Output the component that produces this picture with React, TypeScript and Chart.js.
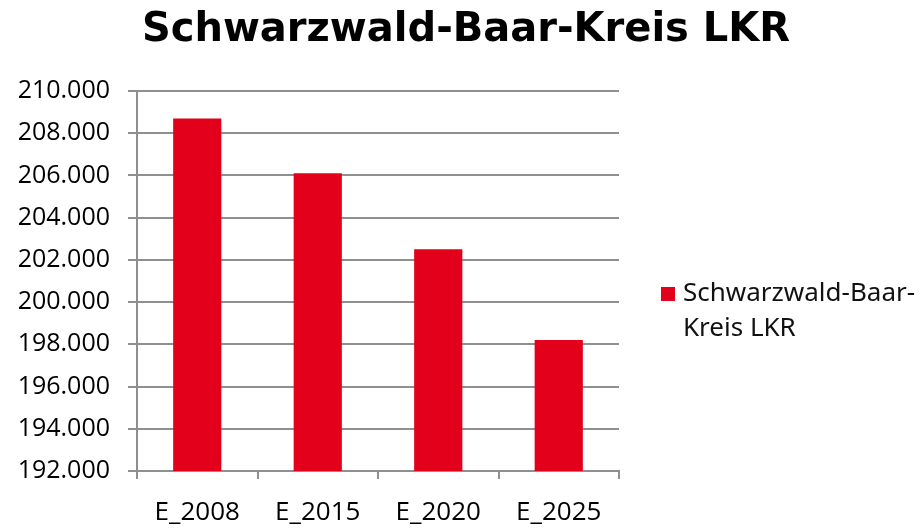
import React, { useEffect, useRef } from "react";
import { Chart, registerables } from "chart.js";

Chart.register(...registerables);

const TITLE = "Schwarzwald-Baar-Kreis LKR";
const SERIES_LABEL = "Schwarzwald-Baar-Kreis LKR";
const CATEGORIES = ["E_2008", "E_2015", "E_2020", "E_2025"];
const VALUES = [208700, 206100, 202500, 198200];
const Y_MIN = 192000;
const Y_MAX = 210000;
const Y_STEP = 2000;

const RED = "#e2001a";
const GRID = "#8f8f8f";
const TICK_FONT = "'Open Sans', 'Noto Sans', sans-serif";
const LEGEND_FONT = "'Noto Sans', 'Open Sans', sans-serif";
const TITLE_FONT = "'DejaVu Sans', 'Noto Sans', sans-serif";

function fmt(v: number): string {
  const s = Math.round(v).toString();
  return s.replace(/\B(?=(\d{3})+(?!\d))/g, ".");
}

const titlePlugin = {
  id: "centerTitle",
  afterDraw(chart: any) {
    const { ctx } = chart;
    ctx.save();
    ctx.font = `bold 40px ${TITLE_FONT}`;
    ctx.fillStyle = "#000";
    ctx.textAlign = "center";
    ctx.textBaseline = "alphabetic";
    ctx.fillText(TITLE, chart.width / 2 + 5, 41);
    ctx.restore();
  },
};

const legendPlugin = {
  id: "wrapLegend",
  afterDraw(chart: any) {
    const ds = chart.data.datasets[0];
    const { ctx, chartArea } = chart;
    const label: string = ds.label;
    const fontSize = 26;
    ctx.save();
    ctx.font = `${fontSize}px ${LEGEND_FONT}`;
    const maxW = chart.width - chartArea.right - 66;
    const parts = label.match(/[^\s-]+[-\s]?/g) || [label];
    const lines: string[] = [];
    let cur = "";
    for (const p of parts) {
      const test = cur + p;
      if (cur && ctx.measureText(test.trimEnd()).width > maxW) {
        lines.push(cur.trimEnd());
        cur = p;
      } else {
        cur = test;
      }
    }
    if (cur) lines.push(cur.trimEnd());
    const boxX = chartArea.right + 42;
    const lineH = 35;
    const firstY = (chartArea.top + chartArea.bottom) / 2 + 13;
    ctx.fillStyle = ds.backgroundColor;
    ctx.fillRect(boxX, firstY - 7, 14, 14);
    ctx.fillStyle = "#111";
    ctx.textBaseline = "middle";
    ctx.textAlign = "left";
    lines.forEach((ln, i) => {
      ctx.fillText(ln, boxX + 22, firstY + i * lineH);
    });
    ctx.restore();
  },
};

export default function App() {
  const ref = useRef<HTMLCanvasElement>(null);
  useEffect(() => {
    document.body.style.margin = "0";
    const chart = new Chart(ref.current!, {
      type: "bar",
      data: {
        labels: CATEGORIES,
        datasets: [
          {
            label: SERIES_LABEL,
            data: VALUES,
            backgroundColor: RED,
            borderWidth: 0,
            barPercentage: 0.4,
            categoryPercentage: 1.0,
          },
        ],
      },
      options: {
        animation: false,
        responsive: true,
        maintainAspectRatio: false,
        layout: { padding: { left: 0, right: 303, top: 91, bottom: 0 } },
        plugins: {
          legend: { display: false },
          tooltip: { enabled: false },
          title: { display: false },
        },
        scales: {
          x: {
            grid: {
              display: true,
              drawOnChartArea: false,
              drawTicks: true,
              tickLength: 8,
              color: GRID,
              lineWidth: 2,
            },
            border: { display: true, color: GRID, width: 2 },
            ticks: {
              color: "#000",
              font: { family: TICK_FONT, size: 26 },
              padding: 18,
            },
            afterFit: (scale: any) => {
              scale.height = 57;
            },
          },
          y: {
            min: Y_MIN,
            max: Y_MAX,
            grid: {
              color: GRID,
              lineWidth: 2,
              drawTicks: true,
              tickLength: 9,
            },
            border: { display: true, color: GRID, width: 2 },
            ticks: {
              stepSize: Y_STEP,
              color: "#000",
              font: { family: TICK_FONT, size: 25 },
              padding: 18,
              callback: (v: any) => fmt(Number(v)),
            },
            afterFit: (scale: any) => {
              scale.width = 137;
            },
          },
        },
      },
      plugins: [titlePlugin, legendPlugin],
    });
    return () => chart.destroy();
  }, []);
  return (
    <div style={{ width: "922px", height: "528px", position: "relative" }}>
      <canvas ref={ref} style={{ display: "block" }} />
    </div>
  );
}
